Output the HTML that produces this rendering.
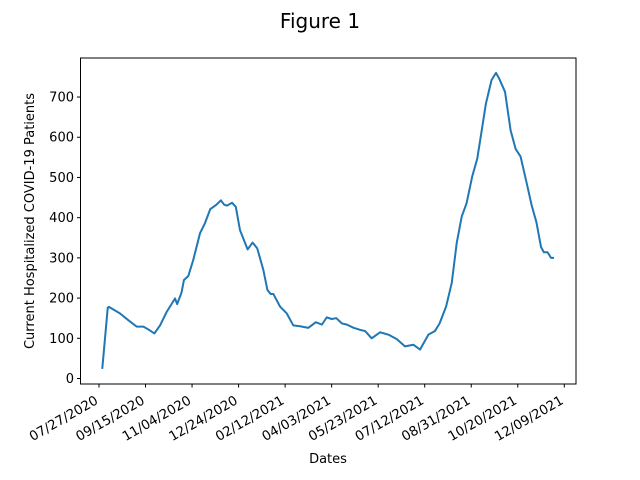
<!DOCTYPE html>
<html><head><meta charset="utf-8"><style>
body{margin:0;background:#fff}
svg{display:block;font-family:"DejaVu Sans","Liberation Sans",sans-serif}
</style></head><body>
<svg id="chart" width="640" height="480">
<rect width="640" height="480" fill="#fff"/>
<text x="320" y="28" font-size="20" text-anchor="middle">Figure 1</text>
<g id="plot"></g>
<rect x="80.5" y="58" width="495.5" height="326" fill="none" stroke="#000" stroke-width="1"/>
<text x="328" y="463" font-size="13" text-anchor="middle">Dates</text>
<text transform="translate(34,221) rotate(-90)" font-size="13" text-anchor="middle">Current Hospitalized COVID-19 Patients</text>
</svg>
<script>
const days = [3.5,9.4,10.6,22.5,31.5,40.5,47.7,53,59.5,65.6,72.8,81.7,84,88.7,91.3,96,101.3,108.5,113.8,119.5,126,131,134.6,137.5,143,147,151.5,159.7,165,170,176.6,181,184.5,187.4,194.5,201.7,208.8,216,225,233,239.5,244.7,250,255,261,266.4,273.6,280.5,286,293,302,311,320,328.8,337.8,345,354,361,366,373,379,384.4,389.8,395,401,406.5,415.8,421.8,426.6,430,436.3,442.3,447.7,453,459,465,470,475,478,482,485.7,489];
const values = [24,176,178,162,145,129,129,122,112,132,166,199,185,214,245,255,295,361,386,421,432,443,432,430,437,427,369,321,338,324,270,220,210,210,179,162,132,130,126,140,134,152,148,150,137,134,126,121,118,100,115,109,98,80,84,72,109,118,137,179,237,337,403,436,502,547,684,742,760,746,713,617,571,552,492,430,389,327,314,314,300,300];
const yTicks = [0,100,200,300,400,500,600,700];
const xTickDays = [0,50,100,150,200,250,300,350,400,450,500];
const xTickLabels = ["07/27/2020","09/15/2020","11/04/2020","12/24/2020","02/12/2021","04/03/2021","05/23/2021","07/12/2021","08/31/2021","10/20/2021","12/09/2021"];

const NS="http://www.w3.org/2000/svg";
const g=document.getElementById('plot');
const xs=d=>99+d*0.9306;
const ys=v=>378.5-v*0.4021;
function mk(t,a){const e=document.createElementNS(NS,t);for(const k in a)e.setAttribute(k,a[k]);g.appendChild(e);return e;}
yTicks.forEach(v=>{
  const y=ys(v);
  const t=mk('line',{x1:77,x2:80.5,y1:y,y2:y,stroke:'#000'});
  
  
  const l=mk('text',{x:74,y:y+4.5,'font-size':13,'text-anchor':'end'});
  l.textContent=v;
  
  
});
xTickDays.forEach((d,i)=>{
  const x=xs(d);
  const t=mk('line',{x1:x,x2:x,y1:384,y2:387.5,stroke:'#000'});
  
  
  const l=mk('text',{x:x,y:403,'font-size':13.3,'text-anchor':'end',transform:`rotate(-30 ${x} 403)`});
  l.textContent=xTickLabels[i];
  
  
});
const p=mk('polyline',{points:days.map((d,i)=>xs(d)+','+ys(values[i])).join(' '),fill:'none',stroke:'#1f77b4','stroke-width':2,'stroke-linejoin':'round'});


</script>
</body></html>
